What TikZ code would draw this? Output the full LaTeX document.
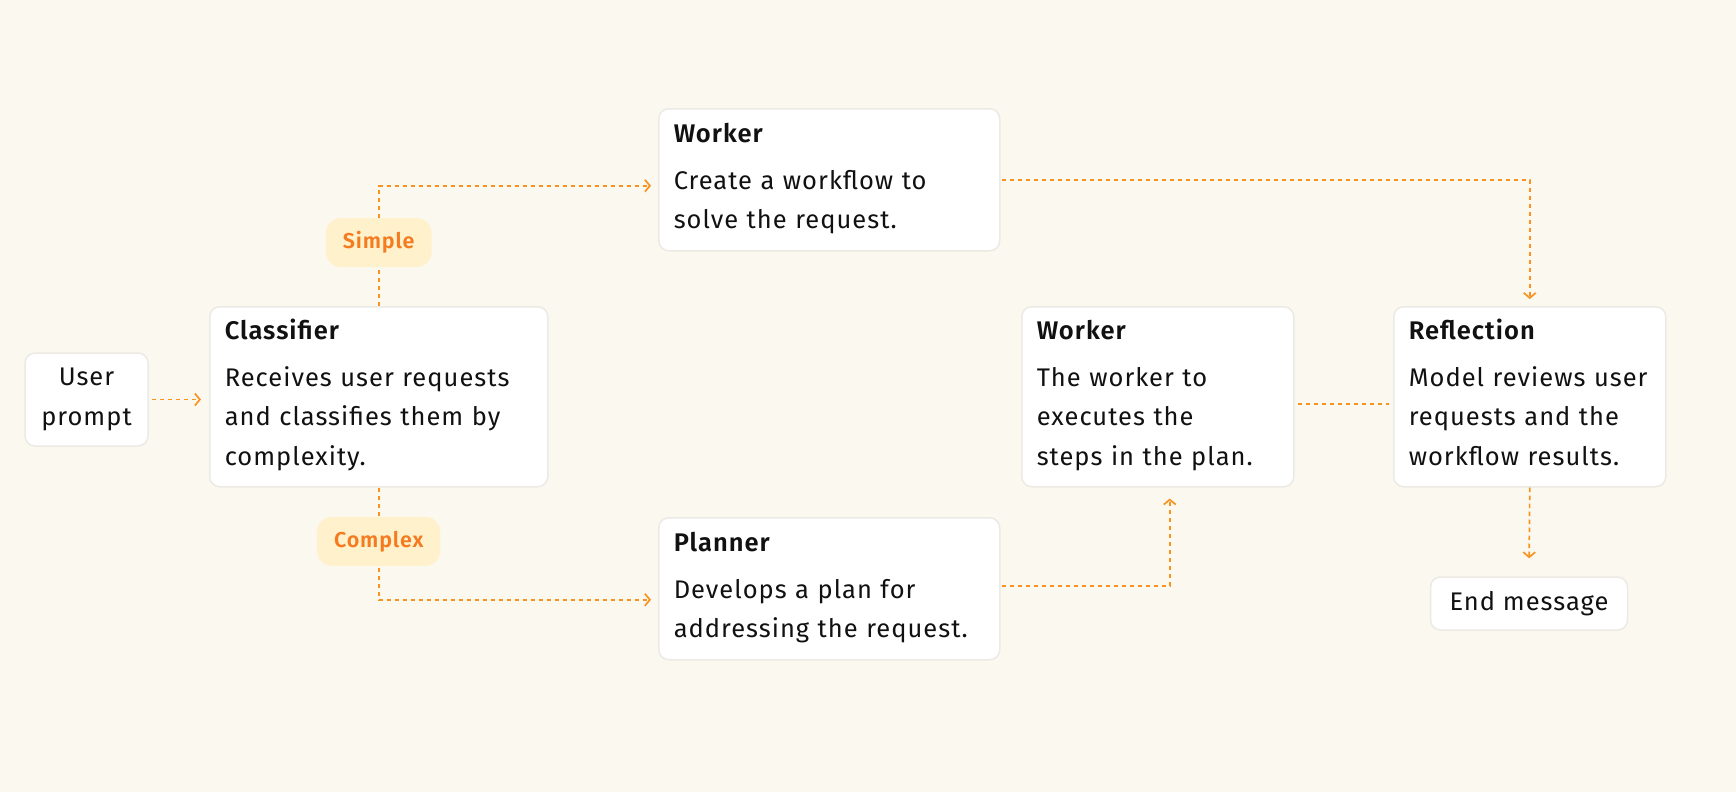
\documentclass[tikz,border=0pt]{standalone}
\usepackage{fontspec}
\setmainfont{Fira Sans}[BoldFont={* SemiBold}, LetterSpace=4]
\usetikzlibrary{arrows.meta}
\definecolor{bg}{HTML}{FBF8F0}
\definecolor{edge}{HTML}{F7931E}
\definecolor{pillfill}{HTML}{FFF1CC}
\definecolor{pilltext}{HTML}{F47B20}
\definecolor{boxline}{HTML}{ECEAE4}
\definecolor{ink}{HTML}{111111}
\newcommand\cardtop{\rule{0pt}{27.65pt}}
\newcommand\cardend{\rule[-16pt]{0pt}{16pt}}
\tikzset{
  card/.style={draw=boxline, line width=1.5pt, fill=white, rounded corners=10pt,
    anchor=north west, align=left, inner xsep=15pt, inner ysep=0pt, text=ink,
    font=\fontsize{25.5}{39.5}\selectfont},
  smallcard/.style={draw=boxline, line width=1.5pt, fill=white, rounded corners=10pt,
    align=center, text=ink, font=\fontsize{25.5}{40}\selectfont},
  pill/.style={fill=pillfill, rounded corners=15pt, text=pilltext,
    font=\fontsize{21.5}{24}\selectfont\bfseries, minimum height=49pt, inner xsep=17pt},
  flow/.style={draw=edge, line width=1.7pt, dash pattern=on 4.5pt off 3.5pt},
  tipped/.style={-{Straight Barb[length=5pt,width=12pt]}}
}
\begin{document}
\begin{tikzpicture}[x=1pt,y=-1pt]
\path[fill=bg, use as bounding box] (0,0) rectangle (1736,792);

\node[smallcard, minimum width=123pt, minimum height=93pt] (user) at (86.5,399.5) {User\\prompt};
\node[card, text width=308pt, minimum height=180pt] (cls) at (209,306)
  {\cardtop\textbf{Classifier}\\[7pt]\mbox{Receives user requests}\\\mbox{and classifies them by}\\complexity.\cardend};
\node[card, text width=311pt, minimum height=142pt] (w1) at (658,108)
  {\cardtop\textbf{Worker}\\[7pt]\mbox{Create a workflow to}\\\mbox{solve the request.}\cardend};
\node[card, text width=311pt, minimum height=142pt] (plan) at (658,517)
  {\cardtop\textbf{Planner}\\[7pt]\mbox{Develops a plan for}\\\mbox{addressing the request.}\cardend};
\node[card, text width=242pt, minimum height=180pt] (w2) at (1021,306)
  {\cardtop\textbf{Worker}\\[7pt]\mbox{The worker to}\\\mbox{executes the}\\\mbox{steps in the plan.}\cardend};
\node[card, text width=242pt, minimum height=180pt] (refl) at (1393,306)
  {\cardtop\textbf{Reflection}\\[7pt]\mbox{Model reviews user}\\\mbox{requests and the}\\\mbox{workflow results.}\cardend};
\node[smallcard, minimum width=197pt, minimum height=53pt] (endmsg) at (1529,603.5) {End message};

\draw[flow, tipped, shorten <=3pt, shorten >=8pt] (user.east) -- (user.east -| cls.west);
\draw[flow, tipped, shorten >=7pt] (cls.north) |- node[pill, pos=0.264] (simple) {Simple} ([yshift=-6pt]w1.west);
\draw[flow, tipped, shorten >=7pt] (cls.south) |- node[pill, pos=0.24] (complex) {Complex} ([yshift=-11pt]plan.west);
\draw[flow, tipped, shorten <=1pt, shorten >=7pt] (w1.east) -| (refl.north);
\draw[flow, tipped, shorten <=1pt, shorten >=11pt] ([yshift=3pt]plan.east) -| ([xshift=12pt]w2.south);
\draw[flow, shorten <=3pt, shorten >=4pt] ([yshift=-7pt]w2.east) -- ([yshift=-7pt]refl.west);
\draw[flow, tipped, shorten >=18pt] (refl.south) -- (endmsg.north);
\end{tikzpicture}
\end{document}
